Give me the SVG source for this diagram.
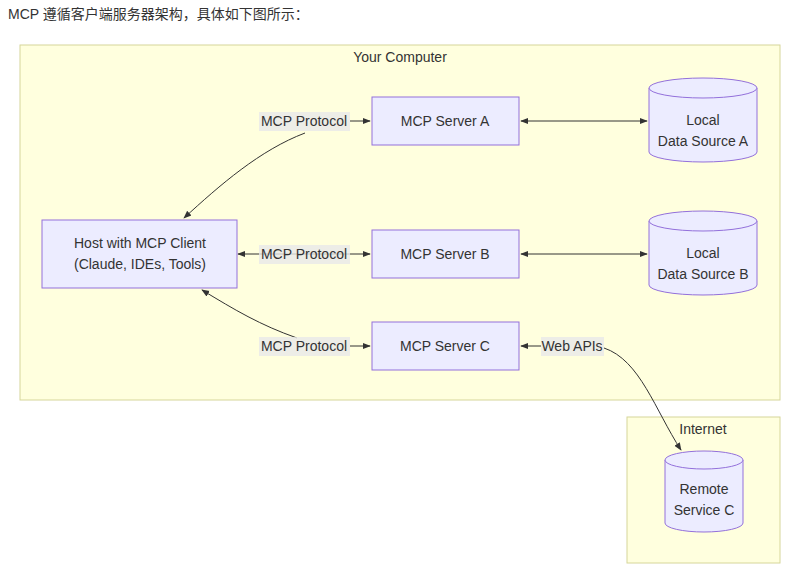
<svg xmlns="http://www.w3.org/2000/svg" width="806" height="576" viewBox="0 0 806 576">
<style>
text{font-family:"Liberation Sans","Noto Sans CJK SC",sans-serif;fill:#333;font-size:14px}
.c{text-anchor:middle}
.cl{fill:#ffffde;stroke:#d6d69a;stroke-width:1}
.n{fill:#ececff;stroke:#9370db;stroke-width:1}
.lb{fill:#e8e8e8;opacity:0.8}
.e{fill:none;stroke:#333;stroke-width:1}
</style>
<defs>
<marker id="a" viewBox="0 0 10 10" refX="9" refY="5" markerWidth="8" markerHeight="8" orient="auto-start-reverse"><path d="M0,1L10,5L0,9z" fill="#333"/></marker>
</defs>
<rect width="806" height="576" fill="#fff"/>
<text x="8" y="19" font-size="15">MCP 遵循客户端服务器架构，具体如下图所示：</text>
<g id="your-computer"><rect class="cl" x="20" y="45" width="760" height="355"/><text class="c" x="400" y="62">Your Computer</text></g>
<g id="internet"><rect class="cl" x="627" y="417" width="153" height="146"/><text class="c" x="703" y="434">Internet</text></g>
<g id="connectors">
<path class="e" d="M305,133 C260,150 220,185 184,218" marker-end="url(#a)"/>
<path class="e" d="M350,121 L370,121" marker-end="url(#a)"/>
<path class="e" d="M238,254 L370,254" marker-start="url(#a)" marker-end="url(#a)"/>
<path class="e" d="M297,338 C260,325 235,310 202,290" marker-end="url(#a)"/>
<path class="e" d="M350,346 L370,346" marker-end="url(#a)"/>
<path class="e" d="M521,121 L647,121" marker-start="url(#a)" marker-end="url(#a)"/>
<path class="e" d="M521,254 L647,254" marker-start="url(#a)" marker-end="url(#a)"/>
<path class="e" d="M521,346 L541,346" marker-start="url(#a)"/>
<path class="e" d="M604,348 C640,360 655,410 681,450" marker-end="url(#a)"/>
<rect class="lb" x="259" y="112" width="91" height="19"/><text class="c" x="304" y="126">MCP Protocol</text>
<rect class="lb" x="259" y="245" width="91" height="19"/><text class="c" x="304" y="259">MCP Protocol</text>
<rect class="lb" x="259" y="337" width="91" height="19"/><text class="c" x="304" y="351">MCP Protocol</text>
<rect class="lb" x="541" y="337" width="63" height="19"/><text class="c" x="572" y="351">Web APIs</text>
</g>
<g id="host"><rect class="n" x="42" y="220" width="195" height="68"/><text class="c" x="140" y="248">Host with MCP Client</text><text class="c" x="140" y="269">(Claude, IDEs, Tools)</text></g>
<g id="server-a"><rect class="n" x="372" y="97" width="147" height="48"/><text class="c" x="445" y="126">MCP Server A</text></g>
<g id="server-b"><rect class="n" x="372" y="230" width="147" height="48"/><text class="c" x="445" y="259">MCP Server B</text></g>
<g id="server-c"><rect class="n" x="372" y="322" width="147" height="48"/><text class="c" x="445" y="351">MCP Server C</text></g>
<g id="data-a"><path class="n" d="M649,88 a54,10 0 0 1 108,0 v64 a54,10 0 0 1 -108,0z"/><path class="n" fill="none" d="M649,88 a54,10 0 0 0 108,0"/><text class="c" x="703" y="125">Local</text><text class="c" x="703" y="146">Data Source A</text></g>
<g id="data-b"><path class="n" d="M649,221 a54,10 0 0 1 108,0 v64 a54,10 0 0 1 -108,0z"/><path class="n" fill="none" d="M649,221 a54,10 0 0 0 108,0"/><text class="c" x="703" y="258">Local</text><text class="c" x="703" y="279">Data Source B</text></g>
<g id="remote-c"><path class="n" d="M665,460 a39,9 0 0 1 78,0 v63 a39,9 0 0 1 -78,0z"/><path class="n" fill="none" d="M665,460 a39,9 0 0 0 78,0"/><text class="c" x="704" y="494">Remote</text><text class="c" x="704" y="515">Service C</text></g>
</svg>
